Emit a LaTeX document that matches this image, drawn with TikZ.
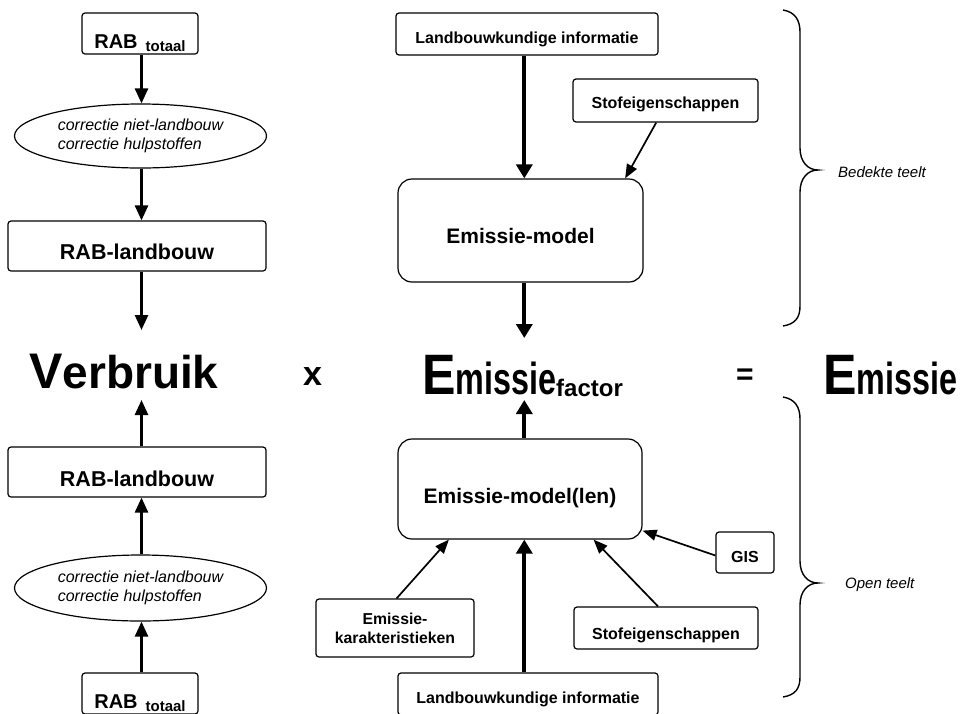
\documentclass[tikz,border=0pt]{standalone}
\usepackage{fontspec}
\setmainfont{Liberation Sans}
\usetikzlibrary{arrows.meta,calc,shapes.geometric}
\newcommand{\bigE}{\scalebox{0.88}[1]{\fontsize{57}{57}\selectfont E}}
\newcommand{\missietxt}{\scalebox{0.95}[1.32]{\fontsize{34}{34}\selectfont missie}}
\begin{document}
\begin{tikzpicture}[x=1pt,y=-1pt,
  box/.style={draw, line width=1.2pt, rounded corners=3pt, inner sep=0pt, text depth=0pt,
    font=\bfseries\fontsize{16}{19}\selectfont},
  model/.style={box, rounded corners=14pt, font=\bfseries\fontsize{21}{24}\selectfont},
  ell/.style={draw, ellipse, line width=1.2pt, inner sep=0pt, align=left,
    font=\itshape\fontsize{16}{19}\selectfont},
  midarr/.style={line width=2.6pt, -{Triangle[length=15pt,width=13pt]}},
  fatarr/.style={line width=4pt, -{Triangle[length=14pt,width=16pt]}},
  thinarr/.style={line width=1.7pt, -{Triangle[length=14pt,width=11pt]}},
  brace/.style={line width=1.4pt},
  big/.style={anchor=base west, inner sep=0pt, font=\bfseries},
  side/.style={anchor=west, inner sep=0pt, font=\itshape\fontsize{15}{18}\selectfont}]
\useasboundingbox (0,0) rectangle (961,713);
\coordinate (lx) at (141.5,0);
\coordinate (mx) at (524.3,0);

% left column, top
\node[box, minimum width=116pt, minimum height=41pt, text height=29pt] (rabT1) at (140,33.5)
  {\fontsize{20}{20}\selectfont RAB\hspace{8pt}\raisebox{-3pt}{\fontsize{15}{15}\selectfont totaal}};
\node[ell, minimum width=252pt, minimum height=64pt] (ell1) at (140.5,136)
  {correctie niet-landbouw\\correctie hulpstoffen};
\node[box, minimum width=258pt, minimum height=50pt, text height=27pt, font=\bfseries\fontsize{21.5}{24}\selectfont] (rabL1) at (137,246) {RAB-landbouw};
\coordinate (vin1) at (141.5,330);

% left column, bottom
\node[box, minimum width=258pt, minimum height=50pt, text height=29pt, font=\bfseries\fontsize{21.5}{24}\selectfont] (rabL2) at (137,472) {RAB-landbouw};
\node[ell, minimum width=252pt, minimum height=66pt] (ell2) at (140.5,588)
  {correctie niet-landbouw\\correctie hulpstoffen};
\node[box, minimum width=116pt, minimum height=41pt, text height=29pt] (rabT2) at (140,693.5)
  {\fontsize{20}{20}\selectfont RAB\hspace{8pt}\raisebox{-3pt}{\fontsize{15}{15}\selectfont totaal}};
\coordinate (vin2) at (141.5,400);

\draw[midarr] (rabT1.south -| lx) -- (ell1.north -| lx);
\draw[midarr] (ell1.south -| lx) -- (rabL1.north -| lx);
\draw[midarr] (rabL1.south -| lx) -- (vin1);
\draw[midarr] (rabT2.north -| lx) -- (ell2.south -| lx);
\draw[midarr] (ell2.north -| lx) -- (rabL2.south -| lx);
\draw[midarr] (rabL2.north -| lx) -- (vin2);

% formula line
\node[big] (verb) at (29,388) {{\fontsize{50}{50}\selectfont V}{\fontsize{46}{46}\selectfont erbruik}};
\node[big] (times) at (303,385) {\fontsize{34}{34}\selectfont x};
\node[big] (emf) at (422,394) {\bigE\missietxt\raisebox{-2pt}{\fontsize{24}{24}\selectfont factor}};
\node[inner sep=0pt, font=\bfseries\fontsize{30}{30}\selectfont] (eq) at (745,377) {=};
\node[big] (em) at (823,394) {\bigE\missietxt};

% middle, top (bedekte teelt)
\node[box, minimum width=262pt, minimum height=42pt, text height=18pt] (lbi1) at (527,34) {Landbouwkundige informatie};
\node[box, minimum width=185pt, minimum height=43pt, text height=16pt] (stof1) at (665.5,100.5) {Stofeigenschappen};
\node[model, minimum width=245pt, minimum height=103pt, text height=25pt] (em1) at (520.5,230.5) {Emissie-model};
\coordinate (ein1) at (524.3,338);
\draw[fatarr] (lbi1.south -| mx) -- (em1.north -| mx);
\draw[thinarr] ($(stof1.south west)!0.45!(stof1.south east)$) -- ($(em1.north west)!0.925!(em1.north east)$);
\draw[fatarr] (em1.south -| mx) -- (ein1);

% middle, bottom (open teelt)
\node[model, minimum width=244pt, minimum height=100pt, text height=28pt] (em2) at (520,489) {Emissie-model(len)};
\node[box, minimum width=158pt, minimum height=58pt, align=center, text depth=, font=\bfseries\fontsize{15.8}{19}\selectfont] (ek) at (395,628) {Emissie-\\karakteristieken};
\node[box, minimum width=184pt, minimum height=42pt, text height=22pt] (stof2) at (666,628) {Stofeigenschappen};
\node[box, minimum width=260pt, minimum height=42pt, text height=18pt] (lbi2) at (528,694) {Landbouwkundige informatie};
\node[box, minimum width=58pt, minimum height=41pt, text height=19pt] (gis) at (745,552.5) {GIS};
\coordinate (ein2) at (524.3,400);
\draw[fatarr] (em2.north -| mx) -- (ein2);
\draw[fatarr] (lbi2.north -| mx) -- (em2.south -| mx);
\draw[thinarr] ($(ek.north west)!0.51!(ek.north east)$) -- ($(em2.south west)!0.21!(em2.south east)$);
\draw[thinarr] ($(stof2.north west)!0.457!(stof2.north east)$) -- ($(em2.south west)!0.8!(em2.south east)$);
\draw[thinarr] ($(gis.west)+(0,3)$) -- ($(em2.south east)+(0,-9)$);

% braces
\draw[brace] (783,10) .. controls (795,12) and (800,20) .. (800,32) -- (800,148)
  .. controls (800,162) and (808,170) .. (818,170)
  .. controls (808,170) and (800,178) .. (800,192) -- (800,306)
  .. controls (800,318) and (795,324) .. (783,326);
\draw[brace] (783,397) .. controls (795,399) and (800,407) .. (800,419) -- (800,561)
  .. controls (800,575) and (808,583) .. (818,583)
  .. controls (808,583) and (800,591) .. (800,605) -- (800,677)
  .. controls (800,689) and (795,695) .. (783,697);
\node[side] (bt) at (838,172) {Bedekte teelt};
\node[side] (ot) at (845,585) {Open teelt};
\end{tikzpicture}
\end{document}
